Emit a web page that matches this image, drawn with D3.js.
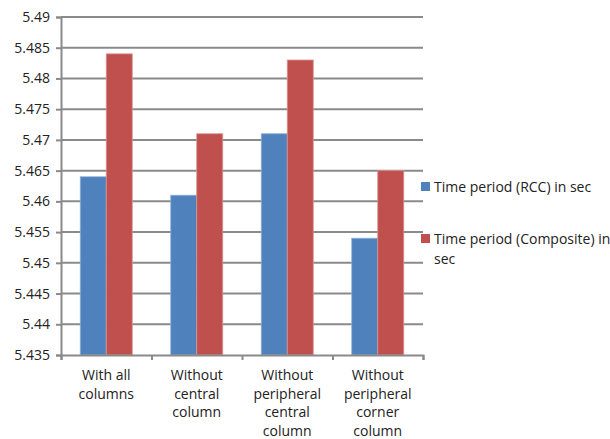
<!DOCTYPE html>
<html>
<head>
<meta charset="utf-8">
<script src="https://cdn.jsdelivr.net/npm/d3@7"></script>
<style>
  html, body { margin: 0; padding: 0; background: #fff; }
  svg text { font-family: "Open Sans", "Noto Sans", sans-serif; fill: #222; }
</style>
</head>
<body>
<svg id="chart" width="610" height="439"></svg>
<script>
// Chart data
const categories = [
  ["With all", "columns"],
  ["Without", "central", "column"],
  ["Without", "peripheral", "central", "column"],
  ["Without", "peripheral", "corner", "column"]
];
const seriesNames = ["Time period (RCC) in sec", "Time period (Composite) in sec"];
const rccValues = [5.464, 5.461, 5.471, 5.454];
const compositeValues = [5.484, 5.471, 5.483, 5.465];
const yTicks = [5.435, 5.44, 5.445, 5.45, 5.455, 5.46, 5.465, 5.47, 5.475, 5.48, 5.485, 5.49];
const colors = ["#4F81BD", "#C0504D"];

const svg = d3.select("#chart");
const plot = { left: 61, right: 423, top: 17, bottom: 355 };

const x = d3.scaleBand()
  .domain(d3.range(categories.length))
  .range([plot.left, plot.right])
  .paddingInner(0)
  .paddingOuter(0);

const x1 = d3.scaleBand()
  .domain([0, 1])
  .range([0, x.bandwidth()])
  .paddingInner(0)
  .paddingOuter(0.74);

const y = d3.scaleLinear()
  .domain([5.435, 5.49])
  .range([plot.bottom, plot.top]);

// Gridlines
svg.append("g")
  .selectAll("line")
  .data(yTicks.slice(1))
  .join("line")
  .attr("x1", plot.left)
  .attr("x2", plot.right)
  .attr("y1", d => y(d))
  .attr("y2", d => y(d))
  .attr("stroke", "#8a8a8a")
  .attr("stroke-width", 2);

// Bars
const series = [rccValues, compositeValues];
const groups = svg.append("g")
  .selectAll("g")
  .data(categories.map((c, i) => i))
  .join("g")
  .attr("transform", i => `translate(${x(i)},0)`);

groups.selectAll("rect")
  .data(i => series.map((s, k) => ({ k, v: s[i] })))
  .join("rect")
  .attr("x", d => x1(d.k))
  .attr("width", x1.bandwidth())
  .attr("y", d => y(d.v))
  .attr("height", d => y(5.435) - y(d.v))
  .attr("fill", d => colors[d.k])
  .attr("stroke", d => d.k === 0 ? "#8fb0d8" : "#d99290")
  .attr("stroke-width", 0.8);

// Y axis
const yAxis = d3.axisLeft(y)
  .tickValues(yTicks)
  .tickSize(5)
  .tickPadding(6)
  .tickFormat(d => d3.format("")(+d.toFixed(3)));
const yg = svg.append("g")
  .attr("transform", `translate(${plot.left},0)`)
  .call(yAxis);
yg.select(".domain").attr("stroke", "#8a8a8a").attr("stroke-width", 2);
yg.selectAll(".tick line").attr("stroke", "#8a8a8a").attr("stroke-width", 2);
yg.selectAll(".tick text")
  .attr("font-size", 14)
  .attr("fill", "#222")
  .style("font-family", "'Open Sans', sans-serif");

// X axis
const xAxisScale = d3.scaleLinear().domain([0, categories.length]).range([plot.left, plot.right]);
const xg = svg.append("g")
  .attr("transform", `translate(0,${plot.bottom})`)
  .call(d3.axisBottom(xAxisScale).tickValues(d3.range(categories.length + 1)).tickSize(5).tickFormat(""));
xg.select(".domain").attr("stroke", "#8a8a8a").attr("stroke-width", 2);
xg.selectAll(".tick line").attr("stroke", "#8a8a8a").attr("stroke-width", 2);

// Category labels
svg.append("g")
  .selectAll("text")
  .data(categories)
  .join("text")
  .attr("text-anchor", "middle")
  .attr("font-size", 14)
  .attr("transform", (d, i) => `translate(${x(i) + x.bandwidth() / 2},380)`)
  .selectAll("tspan")
  .data(d => d)
  .join("tspan")
  .attr("x", 0)
  .attr("y", (d, j) => j * 18.5)
  .text(d => d);

// Legend
const legend = svg.append("g");
const legendItems = [
  { lines: ["Time period (RCC) in sec"], y: 182 },
  { lines: ["Time period (Composite) in", "sec"], y: 234 }
];
legendItems.forEach((item, k) => {
  legend.append("rect")
    .attr("x", 421).attr("y", item.y)
    .attr("width", 9).attr("height", 9)
    .attr("fill", colors[k]);
  const t = legend.append("text")
    .attr("font-size", 14)
    .attr("transform", `translate(434,${item.y + 10})`);
  t.selectAll("tspan")
    .data(item.lines)
    .join("tspan")
    .attr("x", 0)
    .attr("y", (d, j) => j * 20)
    .text(d => d);
});
</script>
</body>
</html>
